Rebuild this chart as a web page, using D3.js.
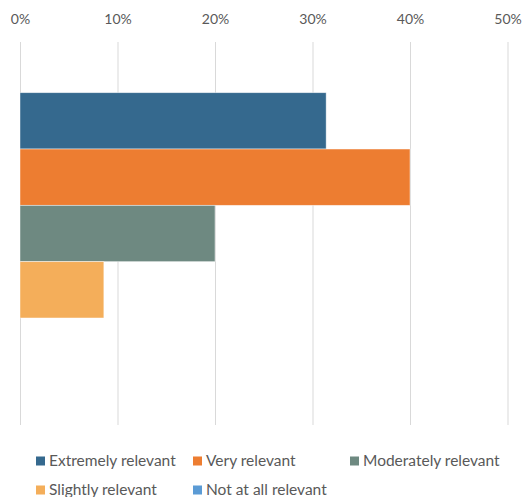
<!DOCTYPE html>
<html>
<head>
<meta charset="utf-8">
<script src="https://cdn.jsdelivr.net/npm/d3@7"></script>
<style>
  body { margin: 0; background: #fff; }
  svg { display: block; font-family: Lato, "Open Sans", sans-serif; }
</style>
</head>
<body>
<svg id="chart"></svg>
<script>
// data
const categories = ["Relevance"];
const seriesNames = ["Extremely relevant", "Very relevant", "Moderately relevant", "Slightly relevant", "Not at all relevant"];
const seriesValues = [0.314, 0.40, 0.20, 0.086, 0];
const seriesColors = ["#35698e", "#ed7d31", "#6e8981", "#f4ae5a", "#5b9bd5"];
const tickValues = [0, 0.1, 0.2, 0.3, 0.4, 0.5];

const W = 523, H = 497;
const margin = { top: 42, right: 16, bottom: 72, left: 20 };
const width = W - margin.left - margin.right;
const height = H - margin.top - margin.bottom;

const svg = d3.select("#chart").attr("width", W).attr("height", H);
const g = svg.append("g").attr("transform", `translate(${margin.left},${margin.top})`);

const x = d3.scaleLinear().domain([0, 0.5]).range([0, 487.5]);

// category band, then one sub-band per series
const y0 = d3.scaleBand().domain(categories).range([0, height]).paddingInner(0).paddingOuter(0.18);
const y1 = d3.scaleBand().domain(seriesNames).range([0, y0.bandwidth()]).padding(0);

// vertical gridlines
g.append("g")
  .selectAll("line")
  .data(tickValues)
  .join("line")
  .attr("x1", d => x(d) + 0.5)
  .attr("x2", d => x(d) + 0.5)
  .attr("y1", 0)
  .attr("y2", height)
  .attr("stroke", "#d9d9d9")
  .attr("stroke-width", 1);

// top axis labels
const axis = g.append("g")
  .call(d3.axisTop(x).tickValues(tickValues).tickFormat(d3.format(".0%")).tickSize(0).tickPadding(0));
axis.select(".domain").remove();
axis.selectAll("text")
  .attr("y", 19 - margin.top)
  .attr("dy", "0.35em")
  .attr("font-size", 14)
  .attr("font-family", "Lato, 'Open Sans', sans-serif")
  .attr("fill", "#595959");

// bars
const rows = seriesNames.map((name, i) => ({ cat: categories[0], name, value: seriesValues[i], color: seriesColors[i] }));
g.append("g")
  .selectAll("rect")
  .data(rows)
  .join("rect")
  .attr("x", x(0))
  .attr("y", d => y0(d.cat) + y1(d.name))
  .attr("width", d => x(d.value) - x(0))
  .attr("height", y1.bandwidth())
  .attr("fill", d => d.color)
  .attr("stroke", "#ffffff")
  .attr("stroke-opacity", 0.6)
  .attr("stroke-width", 0.75);

// legend, three columns on two rows
const colX = [36, 193, 350];
const rowY = [461, 490];
const legend = svg.append("g")
  .selectAll("g")
  .data(rows)
  .join("g")
  .attr("transform", (d, i) => `translate(${colX[i % 3]},${rowY[Math.floor(i / 3)]})`);

legend.append("rect")
  .attr("x", 0)
  .attr("y", -4.5)
  .attr("width", 9)
  .attr("height", 9)
  .attr("fill", d => d.color);

legend.append("text")
  .attr("x", 13)
  .attr("dy", "0.35em")
  .attr("font-size", 15.5)
  .attr("fill", "#595959")
  .text(d => d.name);
</script>
</body>
</html>
